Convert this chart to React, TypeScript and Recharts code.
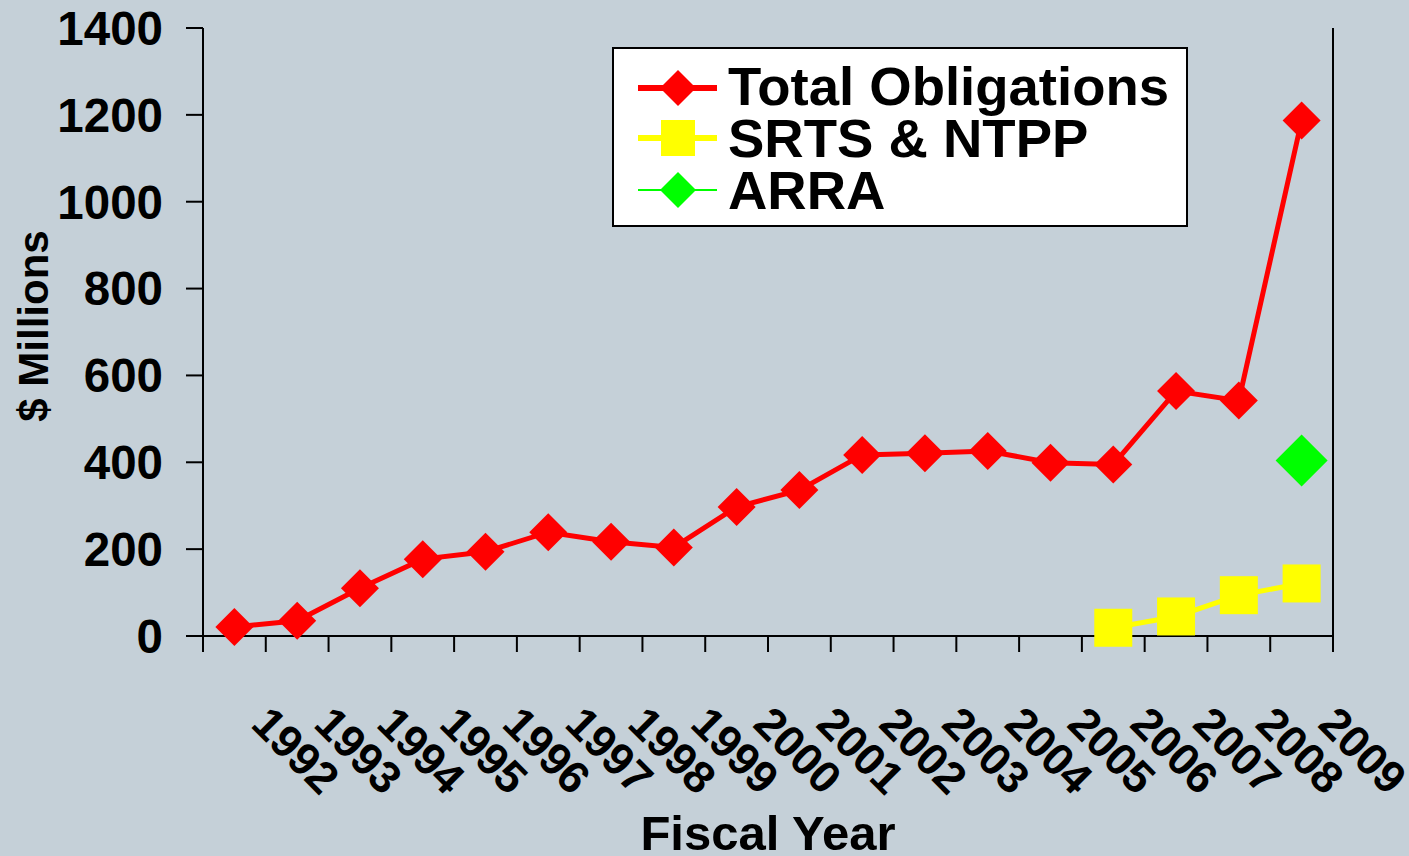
import React from "react";
import {
  LineChart,
  Line,
  XAxis,
  YAxis,
  Legend,
} from "recharts";

const years = [
  "1992", "1993", "1994", "1995", "1996", "1997", "1998", "1999", "2000",
  "2001", "2002", "2003", "2004", "2005", "2006", "2007", "2008", "2009",
];
const totalObligations = [
  21, 35, 110, 177, 194, 239, 217, 204, 297, 336, 417, 421, 426, 399, 395, 564, 542, 1187,
];
const srtsNtpp = [
  null, null, null, null, null, null, null, null, null, null, null, null, null, null,
  19, 45, 94, 121,
];
const arra = [
  null, null, null, null, null, null, null, null, null, null, null, null, null, null,
  null, null, null, 404,
];
const yTicks = [0, 200, 400, 600, 800, 1000, 1200, 1400];

const data = years.map((year, i) => ({
  year,
  total: totalObligations[i],
  srts: srtsNtpp[i],
  arra: arra[i],
}));

const FONT = '"Liberation Sans", Arial, Helvetica, sans-serif';
const BG = "#C5D0D8";
const HALF_BAND = 1130 / 18 / 2;

function diamond(cx: number, cy: number, r: number, fill: string, key?: string) {
  return (
    <path
      key={key}
      d={`M${cx},${cy - r}L${cx + r},${cy}L${cx},${cy + r}L${cx - r},${cy}Z`}
      fill={fill}
    />
  );
}

const redDot = (p: any) =>
  p.cy == null ? <g key={`r${p.index}`} /> : diamond(p.cx, p.cy, 19, "#FF0000", `r${p.index}`);
const greenDot = (p: any) =>
  p.cy == null ? <g key={`g${p.index}`} /> : diamond(p.cx, p.cy, 26, "#00FF00", `g${p.index}`);
const yellowDot = (p: any) =>
  p.cy == null ? (
    <g key={`y${p.index}`} />
  ) : (
    <rect key={`y${p.index}`} x={p.cx - 19} y={p.cy - 19} width={38} height={38} fill="#FFFF00" />
  );

// category labels sit diagonally, tick marks go on the band edges
function YearTick(props: any) {
  const { x, y, payload, index } = props;
  const ax = x + 15;
  const ay = y + 90;
  return (
    <g>
      <line x1={x - HALF_BAND} x2={x - HALF_BAND} y1={y} y2={y + 16} stroke="#000" strokeWidth={2} />
      {index === years.length - 1 && (
        <line x1={x + HALF_BAND} x2={x + HALF_BAND} y1={y} y2={y + 16} stroke="#000" strokeWidth={2} />
      )}
      <text
        x={ax}
        y={ay}
        transform={`rotate(45 ${ax} ${ay})`}
        textAnchor="start"
        fontSize={45}
        fontWeight={700}
        fontFamily={FONT}
        fill="#000"
      >
        {payload.value}
      </text>
    </g>
  );
}

function LegendBox() {
  const rows = [
    { name: "Total Obligations", color: "#FF0000", shape: "diamond", lw: 6, cy: 41, base: 58 },
    { name: "SRTS & NTPP", color: "#FFFF00", shape: "square", lw: 6, cy: 91, base: 110 },
    { name: "ARRA", color: "#00FF00", shape: "diamond", lw: 2, cy: 143, base: 162 },
  ];
  return (
    <div
      style={{
        width: 576,
        height: 180,
        boxSizing: "border-box",
        background: "#fff",
        border: "2px solid #000",
        position: "relative",
      }}
    >
      <svg width={576} height={180} style={{ position: "absolute", left: -2, top: -2 }}>
        {rows.map((r) => (
          <g key={r.name}>
            <line x1={26} x2={105} y1={r.cy} y2={r.cy} stroke={r.color} strokeWidth={r.lw} />
            {r.shape === "diamond"
              ? diamond(66, r.cy, 18, r.color)
              : <rect x={49} y={r.cy - 18} width={34} height={36} fill={r.color} />}
            <text x={116} y={r.base} fontSize={54.5} fontWeight={700} fontFamily={FONT} fill="#000">
              {r.name}
            </text>
          </g>
        ))}
      </svg>
    </div>
  );
}

export default function App() {
  return (
    <div
      style={{
        position: "absolute",
        left: 0,
        top: 0,
        width: 1409,
        height: 856,
        background: BG,
        fontFamily: FONT,
      }}
    >
      <LineChart width={1409} height={856} data={data} margin={{ top: 28, right: 75, left: 0, bottom: 0 }}>
        <XAxis
          dataKey="year"
          height={220}
          padding={{ left: HALF_BAND, right: HALF_BAND }}
          axisLine={{ stroke: "#000", strokeWidth: 2 }}
          tickLine={false}
          tickSize={0}
          tickMargin={0}
          interval={0}
          tick={<YearTick />}
          label={{
            content: (p: any) => (
              <text
                x={p.viewBox.x + p.viewBox.width / 2}
                y={850}
                textAnchor="middle"
                fontSize={49}
                fontWeight={700}
                fontFamily={FONT}
                fill="#000"
              >
                Fiscal Year
              </text>
            ),
          }}
        />
        <XAxis
          xAxisId="top"
          orientation="top"
          dataKey="year"
          height={0}
          tick={false}
          tickLine={false}
          axisLine={{ stroke: "#000", strokeWidth: 2 }}
        />
        <YAxis
          type="number"
          domain={[0, 1400]}
          ticks={yTicks}
          interval={0}
          width={203}
          axisLine={{ stroke: "#000", strokeWidth: 2 }}
          tickLine={{ stroke: "#000", strokeWidth: 2 }}
          tickSize={17}
          tickMargin={23}
          tick={{ fill: "#000", fontSize: 47.5, fontWeight: 700, fontFamily: FONT }}
          label={{
            content: () => (
              <text
                x={33}
                y={326}
                transform="rotate(-90 33 326)"
                textAnchor="middle"
                dominantBaseline="central"
                fontSize={42}
                fontWeight={700}
                fontFamily={FONT}
                fill="#000"
              >
                $ Millions
              </text>
            ),
          }}
        />
        <YAxis
          yAxisId="right"
          orientation="right"
          type="number"
          domain={[0, 1400]}
          width={1}
          tick={false}
          tickLine={false}
          axisLine={{ stroke: "#000", strokeWidth: 2 }}
        />
        <Legend
          layout="vertical"
          align="center"
          verticalAlign="middle"
          wrapperStyle={{ left: 612, top: 47, width: 576, height: 180 }}
          content={() => <LegendBox />}
        />
        <Line
          dataKey="total"
          stroke="#FF0000"
          strokeWidth={5}
          dot={redDot}
          activeDot={false}
          isAnimationActive={false}
        />
        <Line
          dataKey="srts"
          stroke="#FFFF00"
          strokeWidth={5}
          dot={yellowDot}
          activeDot={false}
          isAnimationActive={false}
        />
        {/* same 0-1400 domain as the left axis, so the right frame line gets drawn */}
        <Line
          yAxisId="right"
          dataKey="arra"
          stroke="#00FF00"
          strokeWidth={2}
          dot={greenDot}
          activeDot={false}
          isAnimationActive={false}
        />
      </LineChart>
    </div>
  );
}
